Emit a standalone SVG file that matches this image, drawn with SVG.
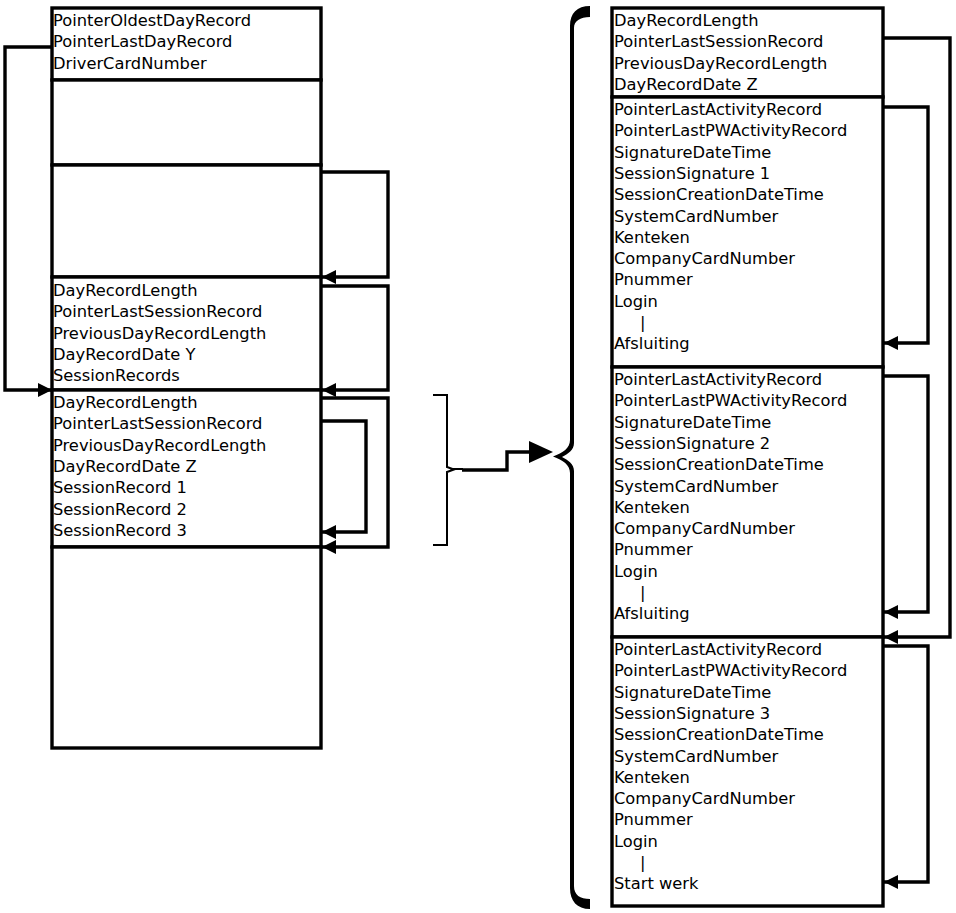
<svg xmlns="http://www.w3.org/2000/svg" width="956" height="913" viewBox="0 0 956 913">
<style>
.box{fill:#fff;stroke:#000;stroke-width:3.4}
.t{font-family:"DejaVu Sans",Verdana,sans-serif;font-size:16.3px;fill:#000}
.c{fill:none;stroke:#000;stroke-width:3.4}
.thin{fill:none;stroke:#000;stroke-width:2}
</style>
<defs>
<marker id="ah" markerUnits="userSpaceOnUse" markerWidth="15" markerHeight="14" refX="14" refY="7" orient="auto">
<path d="M0,0 L14,7 L0,14 Z" fill="#000"/>
</marker>
</defs>
<rect width="956" height="913" fill="#fff"/>

<!-- Left column -->
<g id="left-header">
<rect class="box" x="52" y="8" width="269" height="72"/>
<text class="t" x="53" y="26">PointerOldestDayRecord</text>
<text class="t" x="53" y="47.3">PointerLastDayRecord</text>
<text class="t" x="53" y="68.6">DriverCardNumber</text>
</g>
<g id="left-empty1"><rect class="box" x="52" y="80" width="269" height="85"/></g>
<g id="left-empty2"><rect class="box" x="52" y="165" width="269" height="112"/></g>
<g id="left-dayY">
<rect class="box" x="52" y="277" width="269" height="113"/>
<text class="t" x="53" y="296">DayRecordLength</text>
<text class="t" x="53" y="317.3">PointerLastSessionRecord</text>
<text class="t" x="53" y="338.6">PreviousDayRecordLength</text>
<text class="t" x="53" y="359.9">DayRecordDate Y</text>
<text class="t" x="53" y="381.2">SessionRecords</text>
</g>
<g id="left-dayZ">
<rect class="box" x="52" y="390" width="269" height="157"/>
<text class="t" x="53" y="408">DayRecordLength</text>
<text class="t" x="53" y="429.3">PointerLastSessionRecord</text>
<text class="t" x="53" y="450.6">PreviousDayRecordLength</text>
<text class="t" x="53" y="471.9">DayRecordDate Z</text>
<text class="t" x="53" y="493.2">SessionRecord 1</text>
<text class="t" x="53" y="514.5">SessionRecord 2</text>
<text class="t" x="53" y="535.8">SessionRecord 3</text>
</g>
<g id="left-empty3"><rect class="box" x="52" y="547" width="269" height="201"/></g>

<!-- Right column -->
<g id="right-header">
<rect class="box" x="612" y="8" width="271" height="89"/>
<text class="t" x="614" y="26">DayRecordLength</text>
<text class="t" x="614" y="47.3">PointerLastSessionRecord</text>
<text class="t" x="614" y="68.6">PreviousDayRecordLength</text>
<text class="t" x="614" y="89.9">DayRecordDate Z</text>
</g>
<g id="right-session1">
<rect class="box" x="612" y="97" width="271" height="270"/>
<text class="t" x="614" y="115">PointerLastActivityRecord</text>
<text class="t" x="614" y="136.3">PointerLastPWActivityRecord</text>
<text class="t" x="614" y="157.6">SignatureDateTime</text>
<text class="t" x="614" y="178.9">SessionSignature 1</text>
<text class="t" x="614" y="200.2">SessionCreationDateTime</text>
<text class="t" x="614" y="221.5">SystemCardNumber</text>
<text class="t" x="614" y="242.8">Kenteken</text>
<text class="t" x="614" y="264.1">CompanyCardNumber</text>
<text class="t" x="614" y="285.4">Pnummer</text>
<text class="t" x="614" y="306.7">Login</text>
<text class="t" x="640" y="328">|</text>
<text class="t" x="614" y="349.3">Afsluiting</text>
</g>
<g id="right-session2">
<rect class="box" x="612" y="367" width="271" height="270"/>
<text class="t" x="614" y="385">PointerLastActivityRecord</text>
<text class="t" x="614" y="406.3">PointerLastPWActivityRecord</text>
<text class="t" x="614" y="427.6">SignatureDateTime</text>
<text class="t" x="614" y="448.9">SessionSignature 2</text>
<text class="t" x="614" y="470.2">SessionCreationDateTime</text>
<text class="t" x="614" y="491.5">SystemCardNumber</text>
<text class="t" x="614" y="512.8">Kenteken</text>
<text class="t" x="614" y="534.1">CompanyCardNumber</text>
<text class="t" x="614" y="555.4">Pnummer</text>
<text class="t" x="614" y="576.7">Login</text>
<text class="t" x="640" y="598">|</text>
<text class="t" x="614" y="619.3">Afsluiting</text>
</g>
<g id="right-session3">
<rect class="box" x="612" y="637" width="271" height="269"/>
<text class="t" x="614" y="655">PointerLastActivityRecord</text>
<text class="t" x="614" y="676.3">PointerLastPWActivityRecord</text>
<text class="t" x="614" y="697.6">SignatureDateTime</text>
<text class="t" x="614" y="718.9">SessionSignature 3</text>
<text class="t" x="614" y="740.2">SessionCreationDateTime</text>
<text class="t" x="614" y="761.5">SystemCardNumber</text>
<text class="t" x="614" y="782.8">Kenteken</text>
<text class="t" x="614" y="804.1">CompanyCardNumber</text>
<text class="t" x="614" y="825.4">Pnummer</text>
<text class="t" x="614" y="846.7">Login</text>
<text class="t" x="640" y="868">|</text>
<text class="t" x="614" y="889.3">Start werk</text>
</g>

<!-- Brackets -->
<g id="small-bracket">
<path class="thin" d="M433,395 H447 V467 L454,469.5 L447,472 V545 H433"/>
<path class="thin" d="M452,469 H463" stroke-width="1.5"/>
</g>
<g id="big-brace">
<path fill="#000" d="M590,6 C577,6 570,13 570,26 V440 C570,448 563,453 553,456.5 C563,460 570,465 570,473 V888 C570,901 577,909 590,909 V899 C580,899 574,895 574,886 V471 C574,464 568,460 562,457 C568,454 574,450 574,443 V28 C574,21 580,17 590,17 Z"/>
</g>

<!-- Connectors -->
<g id="connectors">
<path class="c" d="M52,47 H5 V390 H52" marker-end="url(#ah)"/>
<path class="c" d="M321,172 H388 V277 H322" marker-end="url(#ah)"/>
<path class="c" d="M321,286 H388 V390 H322" marker-end="url(#ah)"/>
<path class="c" d="M321,398 H388 V547 H322" marker-end="url(#ah)"/>
<path class="c" d="M321,421 H366 V532 H322" marker-end="url(#ah)"/>
<path class="c" d="M883,38 H950 V637 H884" marker-end="url(#ah)"/>
<path class="c" d="M883,107 H928 V343 H884" marker-end="url(#ah)"/>
<path class="c" d="M883,376 H928 V612 H884" marker-end="url(#ah)"/>
<path class="c" d="M883,646 H928 V882 H884" marker-end="url(#ah)"/>
<path class="c" d="M462,470 H507 V452 H532" stroke-width="4"/>
<path d="M529,441 L553,452 L529,463 Z" fill="#000"/>
</g>
</svg>
